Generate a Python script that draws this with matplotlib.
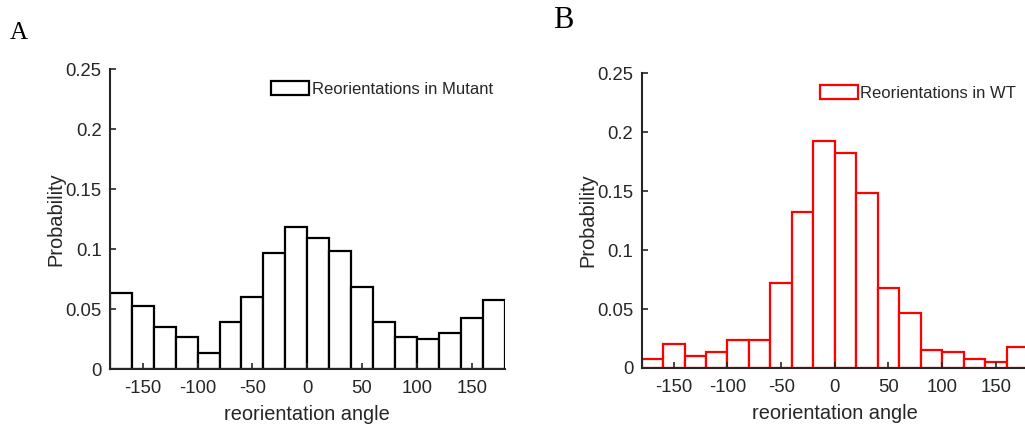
import numpy as np
import matplotlib
matplotlib.use('Agg')
import matplotlib.pyplot as plt

# ============================================================
# DATA (probability per 20-degree bin, -180..180)
# ============================================================
bin_edges = np.arange(-180, 181, 20)
mutant_prob = [0.0637, 0.0526, 0.0353, 0.0267, 0.0133, 0.0392, 0.0601, 0.0965, 0.1187,
               0.1096, 0.0984, 0.0687, 0.0395, 0.0267, 0.0247, 0.0300, 0.0428, 0.0578]
wt_prob = [0.0076, 0.0206, 0.0102, 0.0133, 0.0235, 0.0235, 0.0724, 0.1326, 0.1923,
           0.1821, 0.1485, 0.0676, 0.0467, 0.0156, 0.0133, 0.0076, 0.0054, 0.0178]
yticks = [0, 0.05, 0.1, 0.15, 0.2, 0.25]
ytick_labels = ['0', '0.05', '0.1', '0.15', '0.2', '0.25']
xticks = [-150, -100, -50, 0, 50, 100, 150]

plt.rcParams['font.family'] = ['Liberation Sans', 'DejaVu Sans']
plt.rcParams['axes.unicode_minus'] = False
txt_col = '#262626'

fig = plt.figure(figsize=(10.25, 4.24), dpi=100)
ax_a = fig.add_axes([0.1073, 0.1297, 0.3849, 0.7069])
ax_b = fig.add_axes([0.6260, 0.1321, 0.3769, 0.6950])


def draw_panel(ax, probs, edge, label):
    ax.bar(bin_edges[:-1], probs, width=20, align='edge', facecolor='white',
           edgecolor=edge, linewidth=1.6, label=label)
    ax.set_xlim(-180, 180)
    ax.set_ylim(0, 0.25)
    ax.set_xticks(xticks)
    ax.set_yticks(yticks)
    ax.set_yticklabels(ytick_labels)
    ax.tick_params(direction='in', length=4, width=1.2, labelsize=13.3,
                   colors=txt_col, pad=6)
    ax.tick_params(axis='x', pad=8)
    for s in ['top', 'right']:
        ax.spines[s].set_visible(False)
    for s in ['left', 'bottom']:
        ax.spines[s].set_linewidth(1.5)
        ax.spines[s].set_color(txt_col)
        ax.spines[s].set_zorder(5)
    ax.set_xlabel('reorientation angle', fontsize=14.4, color=txt_col, labelpad=6)
    ax.set_ylabel('Probability', fontsize=14.4, color=txt_col, labelpad=0)
    ax.legend(loc='upper right', frameon=False, fontsize=12, handlelength=2.3,
              handleheight=0.95, handletextpad=0.15, borderaxespad=0.3,
              labelcolor=txt_col)


draw_panel(ax_a, mutant_prob, 'black', 'Reorientations in Mutant')
draw_panel(ax_b, wt_prob, '#ff0000', 'Reorientations in WT')

fig.text(19 / 1025, 1 - 33 / 424, 'A', fontsize=18, family='Liberation Serif',
         ha='center', va='center')
fig.text(563 / 1025, 1 - 21 / 424, 'B', fontsize=22, family='Liberation Serif',
         ha='center', va='center')

plt.savefig('out.png', dpi=100)
